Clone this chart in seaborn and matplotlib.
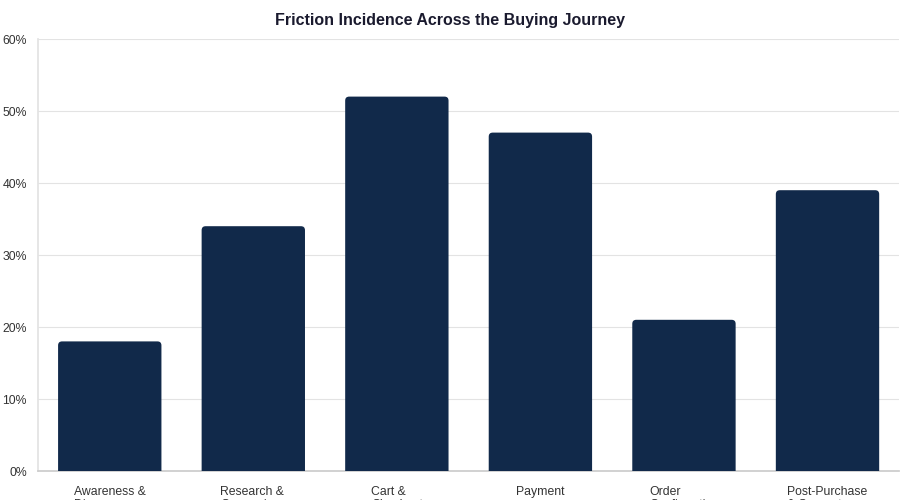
import matplotlib
matplotlib.use("Agg")
import matplotlib.pyplot as plt
import seaborn as sns
import pandas as pd
from matplotlib.patches import FancyBboxPatch
from matplotlib.ticker import PercentFormatter

stages = ["Awareness &\nDiscovery", "Research &\nComparison", "Cart &\nCheckout",
          "Payment", "Order\nConfirmation", "Post-Purchase\n& Support"]
friction_pct = [18, 34, 52, 47, 21, 39]
y_ticks = [0, 10, 20, 30, 40, 50, 60]

BAR_COLOR = "#11294a"
TEXT_COLOR = "#333333"

sns.set_theme(style="white")
plt.rcParams["font.family"] = ["Liberation Sans", "DejaVu Sans"]

df = pd.DataFrame({"stage": stages, "pct": friction_pct})

fig = plt.figure(figsize=(9, 5), dpi=100)
ax = fig.add_axes([0.0422, 0.058, 0.957, 0.864])

sns.barplot(data=df, x="stage", y="pct", color=BAR_COLOR, saturation=1,
            width=0.72, ax=ax, zorder=3)

# round top corners of bars
bb = ax.get_position()
ax.set_ylim(0, 60)
ax.set_xlim(-0.5, len(stages) - 0.5)
px_per_x = bb.width * 900 / len(stages)
px_per_y = bb.height * 500 / 60
r_px = 4
for p in list(ax.patches):
    x, w, h = p.get_x(), p.get_width(), p.get_height()
    p.remove()
    fb = FancyBboxPatch((x, -2), w, h + 2,
                        boxstyle=f"round,pad=0,rounding_size={r_px / px_per_x}",
                        mutation_aspect=px_per_x / px_per_y,
                        facecolor=BAR_COLOR, edgecolor="none", zorder=3)
    ax.add_patch(fb)

ax.set_yticks(y_ticks)
ax.yaxis.set_major_formatter(PercentFormatter(decimals=0))
ax.grid(axis="y", color="#e3e3e3", linewidth=0.8, zorder=0)
ax.set_axisbelow(True)

ax.set_xlabel("")
ax.set_ylabel("")
for s in ["top", "right"]:
    ax.spines[s].set_visible(False)
ax.spines["left"].set_color("#e3e3e3")
ax.spines["bottom"].set_color("#cccccc")
ax.tick_params(axis="y", length=6, color="#e3e3e3", labelsize=8.8, labelcolor=TEXT_COLOR, pad=2)
ax.tick_params(axis="x", length=0, labelsize=8.8, labelcolor=TEXT_COLOR, pad=11)
for lbl in ax.get_xticklabels():
    lbl.set_multialignment("left")
    lbl.set_linespacing(1.05)

fig.text(0.5, 0.958, "Friction Incidence Across the Buying Journey", ha="center", va="center",
         fontsize=11.5, fontweight="bold", color="#1a1a2e")

fig.savefig("out.png", dpi=100)
